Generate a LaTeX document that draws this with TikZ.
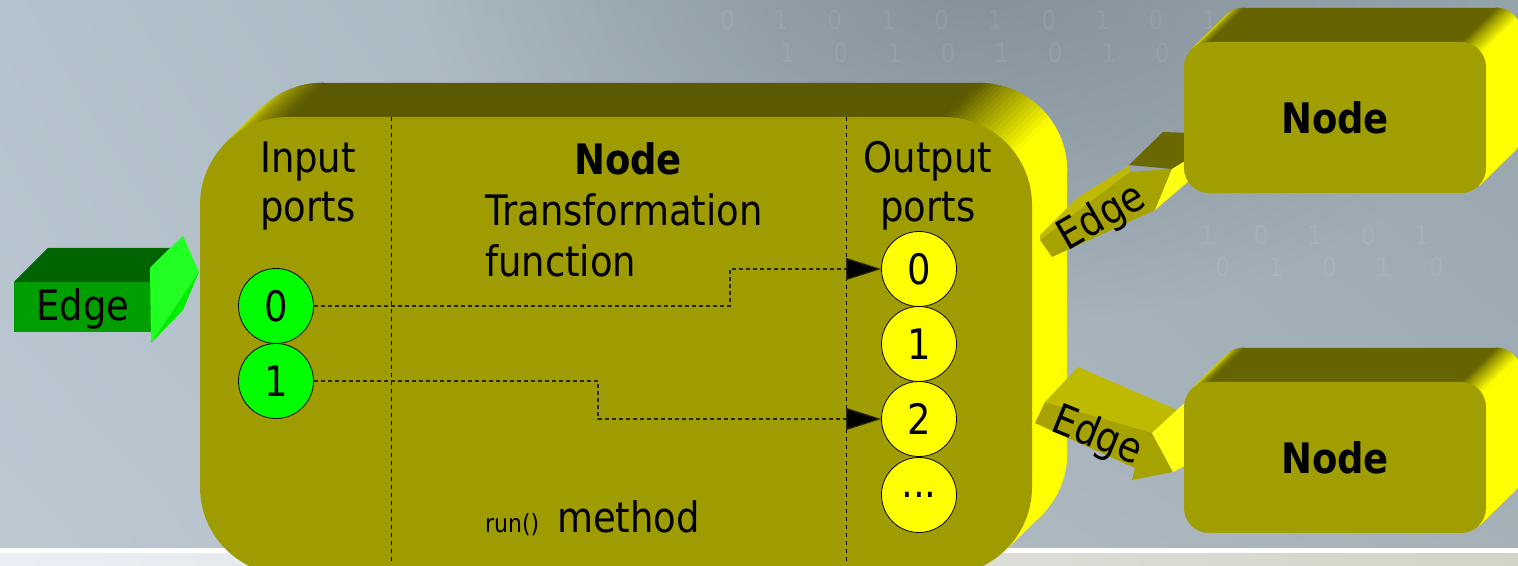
\documentclass[tikz,border=0pt]{standalone}
\usepackage{fontspec}
\setmainfont{DejaVu Sans}[FakeStretch=0.88]
\usetikzlibrary{calc,arrows.meta,fadings,shadings}
\definecolor{frontc}{RGB}{158,156,0}
\definecolor{nodefront}{RGB}{160,158,0}
\definecolor{topd}{RGB}{92,90,0}
\definecolor{topn}{RGB}{102,100,0}
\definecolor{ylw}{RGB}{255,255,0}
\definecolor{portgreen}{RGB}{0,255,0}
\definecolor{bgUL}{RGB}{180,194,205}
\definecolor{bgUR}{RGB}{150,164,172}
\definecolor{bgLL}{RGB}{188,200,210}
\definecolor{bgLR}{RGB}{166,177,184}
\definecolor{bgdark}{RGB}{122,134,141}
\definecolor{stripL}{RGB}{234,239,247}
\definecolor{stripR}{RGB}{212,212,198}
\definecolor{gTop}{RGB}{0,100,0}
\definecolor{gFront}{RGB}{0,158,0}
\definecolor{gHi}{RGB}{34,255,34}
\definecolor{gLo}{RGB}{0,236,0}
\definecolor{eTop}{RGB}{190,186,0}
\definecolor{eFront}{RGB}{166,162,0}
\definecolor{eDark}{RGB}{106,104,0}
\definecolor{eBright}{RGB}{255,255,20}
\definecolor{connc}{RGB}{40,40,0}
\tikzfading[name=blobfade, inner color=transparent!25, outer color=transparent!100]
% sweep of a rounded box extruded by (35,34): #1 left centre x, #2 right centre x, #3 top centre y, #4 bottom centre y, #5 radius, #6 top colour
\newcommand\sweepbox[6]{%
  \fill[#6] ($(#1,#3)+(0,#5)$) -- ($(#2,#3)+(0,#5)$) -- ++(35,34) -- ($(#1,#3)+(0,#5)+(35,34)$) -- cycle;
  \fill[ylw] ($(#2,#4)+(#5,0)$) -- ($(#2,#3)+(#5,0)$) -- ++(35,34) -- ($(#2,#4)+(#5,0)+(35,34)$) -- cycle;
  \foreach \a in {0,3,...,87}{%
    \pgfmathsetmacro\f{min(100,(90-\a-1.5)*100/55)}%
    \fill[ylw!\f!#6, draw=ylw!\f!#6, line width=.6pt] ($(#2,#3)+(\a:#5)$) -- ($(#2,#3)+(\a+3:#5)$) -- ($(#2,#3)+(\a+3:#5)+(35,34)$) -- ($(#2,#3)+(\a:#5)+(35,34)$) -- cycle;}
  \foreach \a in {90,93,...,132}{%
    \pgfmathsetmacro\f{(\a+1.5-90)*70/45}%
    \fill[ylw!\f!#6, draw=ylw!\f!#6, line width=.6pt] ($(#1,#3)+(\a:#5)$) -- ($(#1,#3)+(\a+3:#5)$) -- ($(#1,#3)+(\a+3:#5)+(35,34)$) -- ($(#1,#3)+(\a:#5)+(35,34)$) -- cycle;}
  \foreach \a in {-45,-42,...,-3}{%
    \fill[ylw, draw=ylw, line width=.6pt] ($(#2,#4)+(\a:#5)$) -- ($(#2,#4)+(\a+3:#5)$) -- ($(#2,#4)+(\a+3:#5)+(35,34)$) -- ($(#2,#4)+(\a:#5)+(35,34)$) -- cycle;}
}
\begin{document}
\begin{tikzpicture}[x=1pt,y=1pt,
  font=\fontsize{42}{50}\selectfont,
  lbl/.style={inner sep=0pt, text=black},
  port/.style={circle, draw=black, line width=0.8pt, minimum size=75pt, inner sep=0pt, text=black},
  inport/.style={port, fill=portgreen},
  outport/.style={port, fill=ylw},
  conn/.style={draw=connc, line width=1.2pt, dash pattern=on 4pt off 3pt, -{Triangle[length=35pt,width=22pt,fill=black]}},
  divider/.style={draw=black, line width=0.9pt, dash pattern=on 4pt off 4pt},
  smallnode/.style={fill=nodefront, rounded corners=25pt, minimum width=302pt, minimum height=151pt, inner sep=0pt, font=\fontsize{42}{50}\selectfont\bfseries},
  bintext/.style={text=white, text opacity=0.07, font=\fontsize{26}{26}\selectfont\addfontfeature{LetterSpace=150}, inner sep=0pt}]
\useasboundingbox (0,0) rectangle (1518,565);
% background
\shade[upper left=bgUL, upper right=bgUR, lower left=bgLL, lower right=bgLR] (0,0) rectangle (1518,565);
\fill[bgdark, path fading=blobfade] (980,600) ellipse (560 and 360);
\node[bintext, anchor=west] (bin1) at (720,545) {0101010101010};
\node[bintext, anchor=west] (bin2) at (780,512) {101010101};
\node[bintext, anchor=west] (bin4) at (1200,330) {10101};
\node[bintext, anchor=west] (bin5) at (1215,298) {01010};
\shade[left color=stripL, right color=stripR] (0,0) rectangle (1518,12);
\fill[white] (0,12) rectangle (1518,17);

% extrusions
\sweepbox{288}{944}{360}{78}{88}{topd}
\sweepbox{1209}{1461}{498}{397}{25}{topn}
\sweepbox{1209}{1461}{158}{57}{25}{topn}

% input edge (green 3D arrow)
\fill[gTop] (14,283) -- (48,317) -- (170,317) -- (150,297) -- (150,283) -- cycle;
\fill[gFront] (14,233) rectangle (152,283);
\fill[gHi] (150,297) -- (183,329) -- (199,293) -- (151,222) -- cycle;
\fill[gLo] (199,293) -- (183,255) -- (151,222) -- cycle;
\node[lbl] (edgeIn) at (83,256) {Edge};

% upper output edge
\fill[eTop] (1040,325) -- (1040,330) -- (1077,367) -- (1130,400) -- (1130,393) -- cycle;
\fill[eFront] (1040,325) -- (1052,308) -- (1155,355) -- (1172,396) -- (1130,393) -- cycle;
\fill[eDark] (1129,400) -- (1163,433) -- (1190,432) -- (1190,405) -- (1172,396) -- cycle;
\fill[eBright] (1172,396) -- (1190,407) -- (1190,385) -- (1155,355) -- cycle;
\node[lbl, rotate=30] (edgeA) at (1102,347) {Edge};

% lower output edge
\fill[eTop] (1045,163) -- (1078,198) -- (1177,155) -- (1152,132) -- cycle;
\fill[eFront] (1045,163) -- (1035,142) -- (1135,97) -- (1132,85) -- (1173,93) -- (1152,132) -- cycle;
\fill[eBright] (1152,132) -- (1190,167) -- (1190,102) -- (1173,93) -- cycle;
\node[lbl, rotate=-22] (edgeB) at (1097,128) {Edge};

% front faces
\node[fill=frontc, rounded corners=88pt, minimum width=832pt, minimum height=458pt, inner sep=0pt] (mainbox) at (616,219) {};
\node[smallnode] (nodeA) at (1335,447.5) {Node};
\node[smallnode] (nodeB) at (1335,107.5) {Node};

% dividers
\draw[divider] (391,448) -- (391,0);
\draw[divider] (846,448) -- (846,0);

% texts
\node[lbl, anchor=base] (tin1) at (308,392) {Input};
\node[lbl, anchor=base] (tin2) at (308,343) {ports};
\node[lbl, anchor=base, font=\fontsize{42}{50}\selectfont\bfseries] (tnode) at (628,390) {Node};
\node[lbl, anchor=base west] (ttr) at (485,339) {Transformation};
\node[lbl, anchor=base west] (tfn) at (485,288) {function};
\node[lbl, anchor=base] (tout1) at (928,392) {Output};
\node[lbl, anchor=base] (tout2) at (928,343) {ports};
\node[lbl, anchor=base west, font=\fontsize{25}{28}\selectfont] (trun) at (485,33) {run()};
\node[lbl, anchor=base west] (tmeth) at (557,33) {method};

% ports
\node[inport] (in0) at (276,259) {0};
\node[inport] (in1) at (276,184) {1};
\node[outport] (out0) at (919,296) {0};
\node[outport] (out1) at (919,221) {1};
\node[outport] (out2) at (919,146) {2};
\node[outport] (outd) at (919,70) {...};

% connectors
\coordinate (k0) at (730,0);
\coordinate (k1) at (598,0);
\draw[conn] (in0.east) -- (in0.east -| k0) |- (out0.west);
\draw[conn] (in1.east) -- (in1.east -| k1) |- (out2.west);
\end{tikzpicture}
\end{document}
